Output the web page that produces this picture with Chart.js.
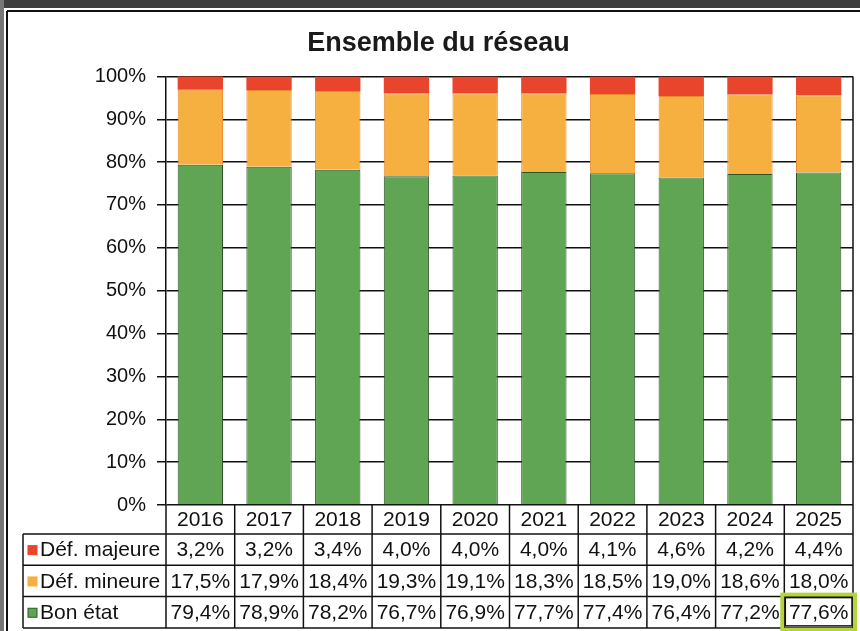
<!DOCTYPE html>
<html>
<head>
<meta charset="utf-8">
<script src="https://cdn.jsdelivr.net/npm/chart.js@4"></script>
<style>
    body { margin: 0; background: #fff; }
    #wrap { width: 860px; height: 631px; }
</style>
</head>
<body>
<div id="wrap"><canvas id="myChart" width="860" height="631"></canvas></div>
<script>
const years = ['2016', '2017', '2018', '2019', '2020', '2021', '2022', '2023', '2024', '2025'];
const bonEtat = [79.4, 78.9, 78.2, 76.7, 76.9, 77.7, 77.4, 76.4, 77.2, 77.6];
const defMineure = [17.5, 17.9, 18.4, 19.3, 19.1, 18.3, 18.5, 19.0, 18.6, 18.0];
const defMajeure = [3.2, 3.2, 3.4, 4.0, 4.0, 4.0, 4.1, 4.6, 4.2, 4.4];
const yTicks = [0, 10, 20, 30, 40, 50, 60, 70, 80, 90, 100];

const RED = '#e8452c';
const ORANGE = '#f6b03f';
const GREEN = '#5fa553';
const FONT = '"Liberation Sans", Arial, sans-serif';

function fmt(v) {
    return v.toFixed(1).replace('.', ',') + '%';
}

// frame around the scan + data table under the bars
const tablePlugin = {
    id: 'dataTable',
    beforeDraw(chart) {
        const ctx = chart.ctx;
        ctx.save();
        ctx.fillStyle = '#fff';
        ctx.fillRect(0, 0, chart.width, chart.height);
        ctx.fillStyle = '#3e3e3e';
        ctx.fillRect(0, 0, chart.width, 8);
        ctx.fillStyle = '#777';
        ctx.fillRect(0, 0, 4, chart.height);
        ctx.strokeStyle = '#111';
        ctx.lineWidth = 2;
        ctx.beginPath();
        ctx.moveTo(7, 11); ctx.lineTo(chart.width, 11);
        ctx.moveTo(7, 11); ctx.lineTo(7, chart.height);
        ctx.stroke();
        ctx.restore();
    },
    afterDraw(chart) {
        const ctx = chart.ctx;
        const a = chart.chartArea;
        const x = chart.scales.x;
        const n = years.length;
        const colW = (a.right - a.left) / n;
        const top = a.bottom;
        const headH = 29;
        const rowH = 31.3;
        const bottom = top + headH + rowH * 3;
        const legLeft = 23;

        function line(x1, y1, x2, y2) {
            ctx.beginPath();
            ctx.moveTo(x1, y1);
            ctx.lineTo(x2, y2);
            ctx.stroke();
        }

        ctx.save();
        ctx.strokeStyle = '#111';
        ctx.lineWidth = 1.5;

        // right border of plot
        line(a.right, a.top, a.right, a.bottom);

        // vertical lines of the table
        for (let i = 0; i <= n; i++) {
            const xx = a.left + i * colW;
            line(xx, top, xx, bottom);
        }
        line(legLeft, top + headH, legLeft, bottom);

        // horizontal lines
        for (let r = 0; r <= 3; r++) {
            const yy = top + headH + r * rowH;
            line(legLeft, yy, a.right, yy);
        }

        ctx.fillStyle = '#111';
        ctx.textAlign = 'center';
        ctx.textBaseline = 'middle';
        ctx.font = '21px ' + FONT;

        years.forEach((yr, i) => {
            ctx.fillText(yr, x.getPixelForValue(i), top + headH / 2 + 1);
        });

        const rows = [
            { label: 'Déf. majeure', color: RED, edge: RED, data: defMajeure },
            { label: 'Déf. mineure', color: ORANGE, edge: ORANGE, data: defMineure },
            { label: 'Bon état', color: GREEN, edge: '#2f5a2a', data: bonEtat }
        ];

        rows.forEach((row, r) => {
            const cy = top + headH + r * rowH + rowH / 2 + 1;
            ctx.fillStyle = row.color;
            ctx.fillRect(28, cy - 5, 9, 9);
            ctx.strokeStyle = row.edge;
            ctx.lineWidth = 1;
            ctx.strokeRect(28, cy - 5, 9, 9);
            ctx.fillStyle = '#111';
            ctx.textAlign = 'left';
            ctx.fillText(row.label, 40, cy);
            ctx.textAlign = 'center';
            row.data.forEach((v, i) => {
                ctx.fillText(fmt(v), x.getPixelForValue(i), cy);
            });
        });

        // highlighted last cell
        const hx = a.left + (n - 1) * colW;
        const hy = top + headH + 2 * rowH;
        ctx.strokeStyle = '#b5d43a';
        ctx.lineWidth = 4;
        ctx.strokeRect(hx - 2, hy - 2, colW + 4, rowH + 4);
        ctx.strokeStyle = '#111';
        ctx.lineWidth = 1.5;
        ctx.strokeRect(hx + 1, hy + 1, colW - 2, rowH - 3);

        ctx.restore();
    }
};

const ctx = document.getElementById('myChart');
new Chart(ctx, {
    type: 'bar',
    data: {
        labels: years,
        datasets: [{
            label: 'Bon état',
            data: bonEtat,
            backgroundColor: GREEN,
            borderColor: '#2c5427',
            borderWidth: 1
        }, {
            label: 'Déf. mineure',
            data: defMineure,
            backgroundColor: ORANGE,
            borderColor: '#ec8a30',
            borderWidth: 1
        }, {
            label: 'Déf. majeure',
            data: defMajeure,
            backgroundColor: RED,
            borderColor: RED,
            borderWidth: 0
        }]
    },
    plugins: [tablePlugin],
    options: {
        responsive: false,
        animation: false,
        layout: {
            padding: { top: 0, left: 24, right: 7, bottom: 126 }
        },
        datasets: {
            bar: {
                barPercentage: 0.66,
                categoryPercentage: 1
            }
        },
        plugins: {
            legend: { display: false },
            tooltip: { enabled: false },
            title: {
                display: true,
                text: 'Ensemble du réseau',
                color: '#1a1a1a',
                font: { family: FONT, size: 27, weight: 'bold' },
                padding: { top: 27, bottom: 17 }
            }
        },
        scales: {
            x: {
                stacked: true,
                display: false
            },
            y: {
                stacked: true,
                min: 0,
                max: 100,
                afterBuildTicks: function (axis) {
                    axis.ticks = yTicks.map(v => ({ value: v }));
                },
                afterFit: function (axis) {
                    axis.width = 142;
                },
                ticks: {
                    color: '#111',
                    padding: 11,
                    font: { family: FONT, size: 20 },
                    callback: function (v) { return v + '%'; }
                },
                grid: {
                    color: '#111',
                    lineWidth: 1.5,
                    tickLength: 9
                },
                border: {
                    color: '#111',
                    width: 1.5
                }
            }
        }
    }
});
</script>
</body>
</html>
